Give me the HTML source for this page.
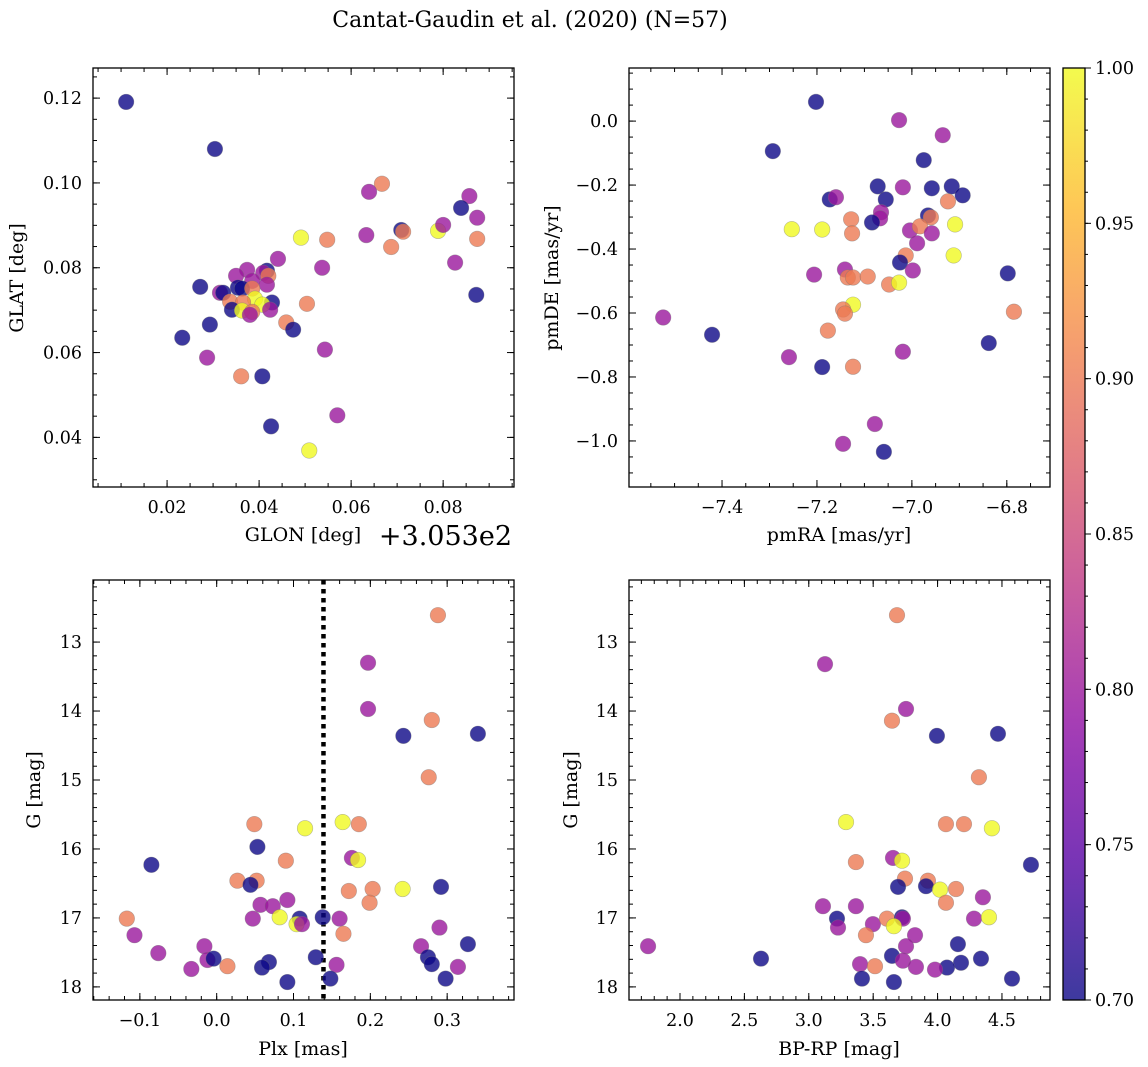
<!DOCTYPE html>
<html><head><meta charset="utf-8">
<style>
html,body{margin:0;padding:0;background:#fff;}
svg{display:block;font-family:"DejaVu Serif","Liberation Serif",serif;}
</style></head>
<body>
<svg id="fig" width="1148" height="1067" viewBox="0 0 1148 1067" xmlns="http://www.w3.org/2000/svg">
<text x="530" y="27" font-size="22" text-anchor="middle">Cantat-Gaudin et al. (2020) (N=57)</text>
</svg>
<script>
// ---- data ----
const p1Glon = [0.0111,0.0304,0.0491,0.0667,0.0639,0.0548,0.0633,0.0687,0.0709,0.0713,0.0789,0.0800,0.0857,0.0874,0.0839,0.0874,0.0826,0.0872,0.0272,0.0233,0.0293,0.0287,0.0361,0.0407,0.0426,0.0509,0.0570,0.0543,0.0537,0.0504,0.0459,0.0474,0.0441,0.0374,0.0417,0.0409,0.0420,0.0350,0.0385,0.0417,0.0354,0.0363,0.0385,0.0315,0.0322,0.0391,0.0428,0.0407,0.0337,0.0365,0.0341,0.0363,0.0385,0.0380,0.0424];
const p1Glat = [0.1191,0.1080,0.0871,0.0998,0.0979,0.0866,0.0877,0.0849,0.0889,0.0885,0.0887,0.0901,0.0969,0.0918,0.0941,0.0868,0.0812,0.0736,0.0755,0.0635,0.0666,0.0588,0.0544,0.0544,0.0426,0.0369,0.0452,0.0607,0.0800,0.0715,0.0671,0.0654,0.0821,0.0795,0.0793,0.0788,0.0781,0.0781,0.0769,0.0760,0.0753,0.0751,0.0751,0.0741,0.0741,0.0727,0.0718,0.0713,0.0720,0.0718,0.0701,0.0699,0.0696,0.0689,0.0701];
const p1Prob = [0.70,0.70,1.00,0.90,0.80,0.90,0.80,0.90,0.70,0.90,1.00,0.80,0.80,0.80,0.70,0.90,0.80,0.70,0.70,0.70,0.70,0.80,0.90,0.70,0.70,1.00,0.80,0.80,0.80,0.90,0.90,0.70,0.80,0.80,0.70,0.80,0.90,0.80,0.80,0.80,0.70,0.70,0.90,0.80,0.70,1.00,0.70,1.00,0.90,0.90,0.70,1.00,0.90,0.80,0.80];

const p2PmRA = [-7.202,-7.293,-7.027,-6.935,-6.975,-7.072,-7.019,-6.958,-6.916,-6.893,-7.173,-7.160,-7.055,-6.924,-7.065,-7.067,-7.084,-7.128,-7.126,-6.966,-6.960,-7.004,-6.983,-6.958,-6.909,-7.189,-7.253,-6.989,-7.013,-7.025,-6.998,-6.912,-7.141,-7.135,-7.124,-7.093,-7.206,-7.048,-7.027,-7.124,-7.145,-7.177,-7.141,-7.124,-7.145,-7.078,-7.059,-7.189,-7.259,-7.421,-7.524,-7.019,-6.838,-6.785,-6.798];
const p2PmDE = [0.060,-0.094,0.003,-0.044,-0.122,-0.204,-0.207,-0.210,-0.204,-0.232,-0.245,-0.238,-0.245,-0.251,-0.285,-0.304,-0.317,-0.307,-0.351,-0.295,-0.301,-0.342,-0.329,-0.351,-0.323,-0.339,-0.338,-0.382,-0.420,-0.442,-0.467,-0.420,-0.464,-0.489,-0.489,-0.486,-0.480,-0.511,-0.505,-0.574,-0.589,-0.655,-0.602,-0.768,-1.009,-0.947,-1.034,-0.769,-0.738,-0.668,-0.614,-0.721,-0.694,-0.596,-0.476];
const p2Prob = [0.70,0.70,0.80,0.80,0.70,0.70,0.80,0.70,0.70,0.70,0.70,0.80,0.70,0.90,0.80,0.80,0.70,0.90,0.90,0.70,0.90,0.80,0.90,0.80,1.00,1.00,1.00,0.80,0.90,0.70,0.80,1.00,0.80,0.90,0.90,0.90,0.80,0.90,1.00,1.00,0.90,0.90,0.90,0.90,0.80,0.80,0.70,0.70,0.80,0.70,0.80,0.80,0.70,0.90,0.70];

const p3Plx = [0.288,0.197,0.197,0.280,0.243,0.340,0.276,0.164,0.185,0.115,0.049,0.053,-0.085,0.090,0.176,0.184,0.027,0.052,0.044,0.242,0.172,0.203,0.199,0.292,0.092,0.057,0.073,-0.117,0.047,0.082,0.108,0.104,0.111,0.138,0.160,0.290,-0.107,0.165,-0.016,-0.076,0.327,0.266,-0.012,-0.004,0.014,0.068,0.059,-0.033,0.129,0.156,0.275,0.280,0.314,0.092,0.148,0.298];
const p3G = [12.61,13.30,13.97,14.13,14.36,14.33,14.96,15.61,15.64,15.70,15.64,15.97,16.23,16.17,16.13,16.16,16.46,16.46,16.52,16.58,16.61,16.58,16.78,16.55,16.74,16.81,16.83,17.01,17.01,16.99,17.01,17.09,17.09,16.99,17.01,17.14,17.25,17.23,17.41,17.51,17.38,17.41,17.61,17.59,17.70,17.64,17.72,17.74,17.57,17.68,17.57,17.67,17.71,17.93,17.88,17.88];
const p3Prob = [0.90,0.80,0.80,0.90,0.70,0.70,0.90,1.00,0.90,1.00,0.90,0.70,0.70,0.90,0.80,1.00,0.90,0.90,0.70,1.00,0.90,0.90,0.90,0.70,0.80,0.80,0.80,0.90,0.80,1.00,0.70,1.00,0.80,0.70,0.80,0.80,0.80,0.90,0.80,0.80,0.70,0.80,0.80,0.70,0.90,0.70,0.70,0.80,0.70,0.80,0.70,0.70,0.80,0.70,0.70,0.70];
const plxCut = 0.139;

const p4Color = [3.685,3.126,3.755,3.646,3.995,4.469,4.321,3.289,4.065,4.205,4.422,4.725,3.366,3.654,3.724,3.747,3.693,3.925,3.910,4.019,4.143,4.065,4.352,3.110,3.366,3.219,3.227,3.498,3.607,3.724,3.731,3.661,4.283,4.399,3.444,3.825,3.755,4.158,1.752,2.629,3.646,3.731,4.337,4.182,3.398,3.514,3.832,4.073,3.980,3.413,3.661,4.578];
const p4G = [12.61,13.32,13.97,14.14,14.36,14.33,14.96,15.61,15.64,15.64,15.70,16.23,16.19,16.13,16.17,16.43,16.55,16.46,16.54,16.59,16.58,16.78,16.70,16.83,16.83,17.01,17.14,17.09,17.01,16.99,17.01,17.12,17.01,16.99,17.25,17.25,17.41,17.38,17.41,17.59,17.55,17.62,17.59,17.65,17.67,17.70,17.71,17.72,17.75,17.88,17.93,17.88];
const p4Prob = [0.90,0.80,0.80,0.90,0.70,0.70,0.90,1.00,0.90,0.90,1.00,0.70,0.90,0.80,1.00,0.90,0.70,0.90,0.70,1.00,0.90,0.90,0.80,0.80,0.80,0.70,0.80,0.80,0.90,0.70,0.80,1.00,0.80,1.00,0.90,0.80,0.80,0.70,0.80,0.70,0.70,0.80,0.70,0.70,0.80,0.90,0.80,0.70,0.80,0.70,0.70,0.70];

const cbTicks = [0.70,0.75,0.80,0.85,0.90,0.95,1.00];

// ---- helpers ----
const NS = "http://www.w3.org/2000/svg";
const svg = document.getElementById('fig');
const TICKFS = 17.5, LABFS = 19;
function mk(tag, attrs, parent){
  const e = document.createElementNS(NS, tag);
  for (const k in attrs) e.setAttribute(k, attrs[k]);
  (parent||svg).appendChild(e);
  return e;
}
const plasmaStops = [[13,8,135],[84,2,163],[139,10,165],[185,50,137],[219,92,104],[244,136,73],[254,188,43],[240,249,33]];
function plasma(t){
  t = Math.max(0, Math.min(1, t));
  const f = t*(plasmaStops.length-1), i = Math.min(Math.floor(f), plasmaStops.length-2), r = f-i;
  const a = plasmaStops[i], b = plasmaStops[i+1];
  return 'rgb(' + [0,1,2].map(k => Math.round(a[k]+(b[k]-a[k])*r)).join(',') + ')';
}
const cmin = 0.70, cmax = 1.00;
function fmt(v, d){ const s = Math.abs(v).toFixed(d); return (v < -1e-9 ? '\u2212' : '') + s; }

function panel(name, box, xr, yr, xMaj, xMin, xd, yMaj, yMin, yd, invertY){
  const [L, T, R, B] = box;
  const sx = v => L + (v - xr[0]) / (xr[1] - xr[0]) * (R - L);
  const sy = invertY ? (v => T + (v - yr[0]) / (yr[1] - yr[0]) * (B - T))
                     : (v => B - (v - yr[0]) / (yr[1] - yr[0]) * (B - T));
  const g = mk('g', {});
  
  
  const eps = 1e-9;
  function ticksX(step, len, major){
    const a = Math.min(xr[0], xr[1]), b = Math.max(xr[0], xr[1]);
    for (let v = Math.ceil(a/step - eps)*step; v <= b + eps; v += step){
      const x = sx(v);
      mk('line', {x1:x, y1:B, x2:x, y2:B-len, stroke:'#000', 'stroke-width':1}, g);
      mk('line', {x1:x, y1:T, x2:x, y2:T+len, stroke:'#000', 'stroke-width':1}, g);
      if (major){
        const t = mk('text', {x:x, y:B+26, 'font-size':TICKFS, 'text-anchor':'middle'}, g);
        t.textContent = fmt(Math.round(v/step)*step, xd);
        
        
      }
    }
  }
  function ticksY(step, len, major){
    const a = Math.min(yr[0], yr[1]), b = Math.max(yr[0], yr[1]);
    for (let v = Math.ceil(a/step - eps)*step; v <= b + eps; v += step){
      const y = sy(v);
      mk('line', {x1:L, y1:y, x2:L+len, y2:y, stroke:'#000', 'stroke-width':1}, g);
      mk('line', {x1:R, y1:y, x2:R-len, y2:y, stroke:'#000', 'stroke-width':1}, g);
      if (major){
        const t = mk('text', {x:L-11, y:y+6, 'font-size':TICKFS, 'text-anchor':'end'}, g);
        t.textContent = fmt(Math.round(v/step)*step, yd);
        
        
      }
    }
  }
  ticksX(xMin, 4, false); ticksX(xMaj, 7, true);
  ticksY(yMin, 4, false); ticksY(yMaj, 7, true);
  return {g, sx, sy, box};
}
function scatter(p, xs, ys, cs){
  for (let i = 0; i < xs.length; i++){
    const c = mk('circle', {cx:p.sx(xs[i]), cy:p.sy(ys[i]), r:7.8,
      fill:plasma((cs[i]-cmin)/(cmax-cmin)), 'fill-opacity':0.8, stroke:'#777', 'stroke-opacity':0.5, 'stroke-width':0.6}, p.g);
    
    
  }
}
function frame(p){
  const [L,T,R,B] = p.box;
  const f = mk('rect', {x:L, y:T, width:R-L, height:B-T, fill:'none', stroke:'#000', 'stroke-width':1.3}, p.g);
  
  
}
function label(txt, x, y, rot, name, size){
  const t = mk('text', {x:x, y:y, 'font-size':size||LABFS, 'text-anchor':'middle'});
  if (rot) t.setAttribute('transform', 'rotate(-90 ' + x + ' ' + y + ')');
  t.textContent = txt;
  
  
}

// Panel 1
const a1 = panel('glon-glat-panel', [93,68,514,487], [0.0039,0.0954], [0.0283,0.1271], 0.02, 0.005, 2, 0.02, 0.005, 2, false);
scatter(a1, p1Glon, p1Glat, p1Prob); frame(a1);
label('GLON [deg]', 303, 541, false, 'x-axis-title-glon');
label('GLAT [deg]', 23, 278, true, 'y-axis-title-glat');
const off = mk('text', {x:512, y:545, 'font-size':27, 'text-anchor':'end'});
off.textContent = '+3.053e2';



// Panel 2
const a2 = panel('proper-motion-panel', [629,68,1050,487], [-7.596,-6.709], [-1.144,0.166], 0.2, 0.05, 1, 0.2, 0.05, 1, false);
scatter(a2, p2PmRA, p2PmDE, p2Prob); frame(a2);
label('pmRA [mas/yr]', 839, 541, false, 'x-axis-title-pmra');
label('pmDE [mas/yr]', 558, 278, true, 'y-axis-title-pmde');

// Panel 3
const a3 = panel('parallax-magnitude-panel', [93,580,514,1000], [-0.161,0.387], [12.10,18.19], 0.1, 0.02, 1, 1, 0.2, 0, true);
const cut = mk('line', {x1:a3.sx(plxCut), y1:580, x2:a3.sx(plxCut), y2:1000, stroke:'#000', 'stroke-width':4.5, 'stroke-dasharray':'4.5,4.5'}, a3.g);


scatter(a3, p3Plx, p3G, p3Prob); frame(a3);
label('Plx [mas]', 303, 1055, false, 'x-axis-title-plx');
label('G [mag]', 40, 790, true, 'y-axis-title-g');

// Panel 4
const a4 = panel('color-magnitude-panel', [629,580,1050,1000], [1.604,4.873], [12.10,18.19], 0.5, 0.1, 1, 1, 0.2, 0, true);
scatter(a4, p4Color, p4G, p4Prob); frame(a4);
label('BP-RP [mag]', 839, 1055, false, 'x-axis-title-bprp');
label('G [mag]', 577, 790, true, 'y-axis-title-g-cmd');

// Colorbar
const cb = mk('g', {});


const defs = mk('defs', {});
const grad = mk('linearGradient', {id:'cbg', x1:0, y1:1, x2:0, y2:0}, defs);
for (let i = 0; i <= 20; i++){
  mk('stop', {offset:(i/20), 'stop-color':plasma(i/20), 'stop-opacity':0.8}, grad);
}
const CL=1063, CT=68, CR=1085, CB=1000;
mk('rect', {x:CL, y:CT, width:CR-CL, height:CB-CT, fill:'url(#cbg)'}, cb);
const cy = v => CB - (v - cmin)/(cmax - cmin)*(CB - CT);
for (let v = 0.70; v <= 1.0001; v += 0.01){
  mk('line', {x1:CR, y1:cy(v), x2:CR+3, y2:cy(v), stroke:'#000', 'stroke-width':1}, cb);
}
cbTicks.forEach(v => {
  mk('line', {x1:CR, y1:cy(v), x2:CR+6, y2:cy(v), stroke:'#000', 'stroke-width':1}, cb);
  const t = mk('text', {x:CR+10, y:cy(v)+6, 'font-size':TICKFS}, cb);
  t.textContent = v.toFixed(2);
  
  
});
mk('rect', {x:CL, y:CT, width:CR-CL, height:CB-CT, fill:'none', stroke:'#000', 'stroke-width':1.3}, cb);
</script>
</body></html>
